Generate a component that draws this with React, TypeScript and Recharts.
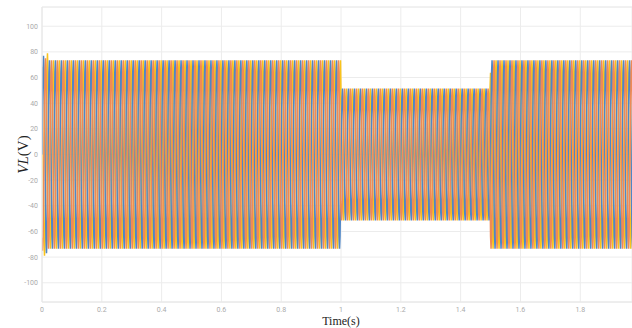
import React from 'react';
import { LineChart, Line, XAxis, YAxis, CartesianGrid, ReferenceLine } from 'recharts';

// three-phase line voltage, 50 Hz, amplitude steps down at 1s and back up at 1.5s
const frequencyHz = 50;
const endTime = 1.98;
const segmentStarts = [0, 1.0, 1.5];
const segmentAmplitudes = [73.5, 51.5, 73.5];
// first cycle overshoot per phase (c, a, b)
const startupAmplitudes = [79, 77, 75];
// one cycle shape, 30 degree steps
const cycleShape = [0, 0.5, 0.866, 1, 0.866, 0.5, 0, -0.5, -0.866, -1, -0.866, -0.5];
// phase offsets in samples (120 degrees = 4 samples)
const phaseOffsets = [4, 0, 8];
const seriesKeys = ['vc', 'va', 'vb'];
const seriesColors = ['#f9c31c', '#4f86c6', '#ef8a56'];
const xTicks = [0, 0.2, 0.4, 0.6, 0.8, 1, 1.2, 1.4, 1.6, 1.8];
const yTicks = [-100, -80, -60, -40, -20, 0, 20, 40, 60, 80, 100];

const amplitudeAt = (t: number) => {
  let a = segmentAmplitudes[0];
  segmentStarts.forEach((s, i) => {
    if (t >= s) a = segmentAmplitudes[i];
  });
  return a;
};

const buildRows = () => {
  const rows: Record<string, number>[] = [];
  const n = cycleShape.length;
  const dt = 1 / frequencyHz / n;
  for (let i = 0; i * dt <= endTime; i++) {
    const t = i * dt;
    const row: Record<string, number> = { t };
    seriesKeys.forEach((key, p) => {
      const amp = i < n ? startupAmplitudes[p] : amplitudeAt(t);
      row[key] = amp * cycleShape[(i + phaseOffsets[p]) % n];
    });
    rows.push(row);
  }
  return rows;
};

const data = buildRows();

const tickStyle = { fontSize: 7, fill: '#aaa', fontFamily: 'Roboto, sans-serif' };
const serif = "'Liberation Serif', serif";

const YLabel = (props: any) => {
  const { viewBox } = props;
  const cy = viewBox.y + viewBox.height / 2;
  return (
    <text x={28} y={cy} transform={`rotate(-90, 28, ${cy})`} textAnchor="middle" fontFamily={serif} fontSize={15} fill="#222">
      <tspan fontStyle="italic">VL</tspan>
      <tspan>(V)</tspan>
    </text>
  );
};

const XLabel = (props: any) => {
  const { viewBox } = props;
  const cx = viewBox.x + viewBox.width / 2 + 4;
  return (
    <text x={cx} y={325} textAnchor="middle" fontFamily={serif} fontSize={12} fill="#222">
      Time(s)
    </text>
  );
};

export default function App() {
  return (
    <div style={{ position: 'absolute', left: 0, top: 0, width: 632, height: 328, background: '#fff' }}>
      <LineChart width={632} height={328} data={data} margin={{ top: 7, right: 0, bottom: 0, left: 0 }}>
        <CartesianGrid stroke="#ececec" strokeWidth={1} />
        <XAxis
          type="number"
          dataKey="t"
          domain={[0, 1.973]}
          ticks={xTicks}
          allowDataOverflow
          height={26}
          stroke="#e6e6e6"
          tickLine={false}
          tick={tickStyle}
          tickSize={0}
          tickMargin={5}
          label={<XLabel />}
        />
        <YAxis
          type="number"
          domain={[-115, 115]}
          ticks={yTicks}
          allowDataOverflow
          width={42}
          stroke="#e6e6e6"
          tickLine={false}
          tick={tickStyle}
          tickSize={0}
          tickMargin={4}
          label={<YLabel />}
        />
        <ReferenceLine y={115} stroke="#ececec" />
        {seriesKeys.map((key, i) => (
          <Line
            key={key}
            type="linear"
            dataKey={key}
            stroke={seriesColors[i]}
            strokeWidth={1.5}
            dot={false}
            isAnimationActive={false}
          />
        ))}
      </LineChart>
    </div>
  );
}
